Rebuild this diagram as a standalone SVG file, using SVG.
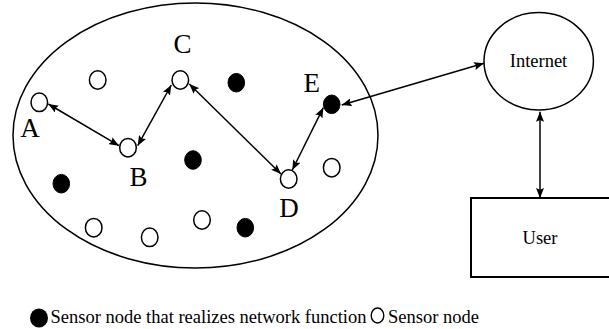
<svg xmlns="http://www.w3.org/2000/svg" width="609" height="329" viewBox="0 0 609 329">
  <style>
    .outline { fill: none; stroke: #000; stroke-width: 1.5; }
    .open { fill: #fff; stroke: #000; stroke-width: 1.5; }
    .solid { fill: #000; stroke: #000; stroke-width: 1; }
    .link { stroke: #000; stroke-width: 1.5; fill: none; marker-start: url(#head); marker-end: url(#head); }
    .lbl { font-family: "Liberation Serif", "Times New Roman", serif; font-size: 27px; fill: #000; text-anchor: middle; }
    .txt { font-family: "Liberation Serif", "Times New Roman", serif; font-size: 18.5px; fill: #000; }
  </style>
  <defs>
    <marker id="head" viewBox="0 0 10 8" refX="10" refY="4" markerWidth="10" markerHeight="8" markerUnits="userSpaceOnUse" orient="auto-start-reverse">
      <path d="M0,0 L10,4 L0,8 L1.8,4 Z" fill="#000"/>
    </marker>
  </defs>

  <!-- sensor field -->
  <g id="field">
    <ellipse class="outline" cx="195.5" cy="135.5" rx="182.5" ry="132.5"/>
  </g>

  <!-- labelled route nodes -->
  <g id="node-A">
    <ellipse class="open" cx="39.3" cy="102.3" rx="8.3" ry="9.3"/>
    <text class="lbl" x="30" y="137">A</text>
  </g>
  <g id="node-B">
    <ellipse class="open" cx="128" cy="147.7" rx="8.3" ry="9.3"/>
    <text class="lbl" x="138.5" y="186">B</text>
  </g>
  <g id="node-C">
    <ellipse class="open" cx="180.3" cy="80" rx="8.3" ry="9.3"/>
    <text class="lbl" x="182.5" y="53">C</text>
  </g>
  <g id="node-D">
    <ellipse class="open" cx="288.7" cy="179" rx="8.3" ry="9.3"/>
    <text class="lbl" x="289" y="217">D</text>
  </g>
  <g id="node-E">
    <ellipse class="solid" cx="331.7" cy="104.3" rx="8.3" ry="9.3"/>
    <text class="lbl" x="311.7" y="91.5">E</text>
  </g>

  <!-- other sensors -->
  <g id="sensors-open">
    <ellipse class="open" cx="97.7" cy="80" rx="8.3" ry="9.3"/>
    <ellipse class="open" cx="331.7" cy="167.7" rx="8.3" ry="9.3"/>
    <ellipse class="open" cx="93.7" cy="227.7" rx="8.3" ry="9.3"/>
    <ellipse class="open" cx="149.7" cy="237.3" rx="8.3" ry="9.3"/>
    <ellipse class="open" cx="202" cy="220" rx="8.3" ry="9.3"/>
  </g>
  <g id="sensors-network">
    <ellipse class="solid" cx="236.3" cy="82.7" rx="8.3" ry="9.3"/>
    <ellipse class="solid" cx="193" cy="160" rx="8.3" ry="9.3"/>
    <ellipse class="solid" cx="61.3" cy="183.7" rx="8.3" ry="9.3"/>
    <ellipse class="solid" cx="245.3" cy="227.7" rx="8.3" ry="9.3"/>
  </g>

  <!-- internet and user -->
  <g id="internet">
    <ellipse class="outline" cx="538.7" cy="61.3" rx="54.7" ry="48.7"/>
    <text class="txt" x="538.5" y="67" text-anchor="middle">Internet</text>
  </g>
  <g id="user">
    <rect x="471" y="198" width="150" height="79" fill="none" stroke="#000" stroke-width="2"/>
    <text class="txt" x="540" y="244" text-anchor="middle">User</text>
  </g>

  <!-- links -->
  <g id="connectors">
    <line class="link" x1="48.3" y1="104" x2="119" y2="145.7"/>
    <line class="link" x1="137.7" y1="145.7" x2="171.3" y2="85"/>
    <line class="link" x1="189.3" y1="84" x2="281" y2="174"/>
    <line class="link" x1="292.3" y1="170" x2="323.3" y2="107.7"/>
    <line class="link" x1="341.7" y1="105" x2="484" y2="63.3"/>
    <line class="link" x1="540" y1="111.7" x2="540" y2="198"/>
  </g>

  <!-- legend -->
  <g id="legend">
    <ellipse cx="39" cy="318" rx="9" ry="9.5" fill="#000"/>
    <text class="txt" x="50.5" y="323">Sensor node that realizes network function</text>
    <ellipse cx="377.5" cy="315.5" rx="6.3" ry="7.5" fill="none" stroke="#000" stroke-width="1.4"/>
    <text class="txt" x="388" y="323">Sensor node</text>
  </g>
</svg>
